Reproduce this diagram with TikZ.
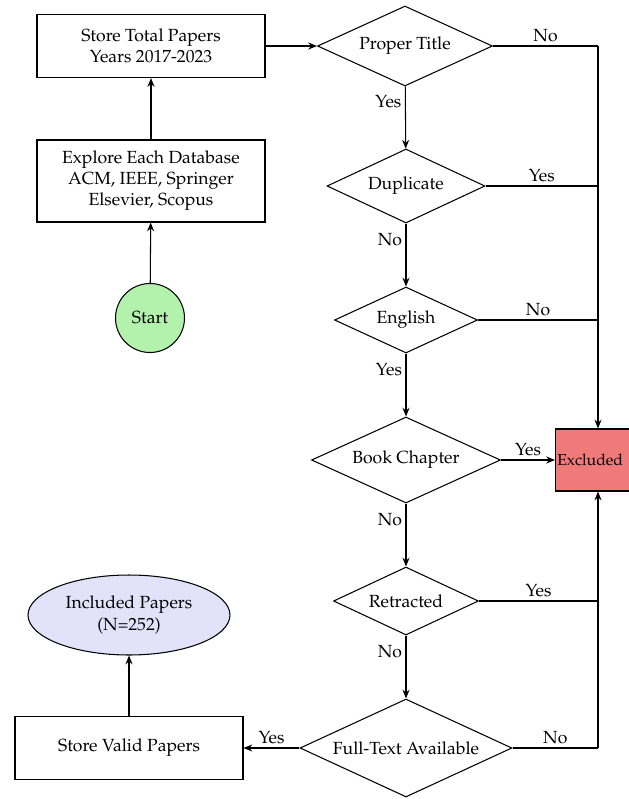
\documentclass[tikz,border=0pt]{standalone}
\usepackage[T1]{fontenc}
\usepackage{mathpazo}
\usepackage{xcolor}
\definecolor{startgreen}{RGB}{178,242,172}
\definecolor{exclred}{RGB}{240,122,122}
\definecolor{inclblue}{RGB}{226,226,250}
\usepackage{tikz}
\usetikzlibrary{shapes.geometric}
\usetikzlibrary{arrows.meta}

\tikzset{
  stepbox/.style={draw, rectangle, align=center, minimum width=4.56cm},
  decision/.style={draw, diamond, aspect=2.2, inner sep=0pt, align=center},
  flow/.style={-{Stealth[length=5pt,width=4pt]}},
  lbl/.style={inner sep=2pt}
}

\begin{document}
\begin{tikzpicture}[x=0.02cm, y=-0.02cm, semithick]
    \useasboundingbox (0,0) rectangle (629,799);

    \node [stepbox, minimum height=1.26cm] (store) at (151,46) {Store Total Papers\\Years 2017-2023};
    \node [stepbox, minimum height=1.64cm] (explore) at (151,181) {Explore Each Database\\ACM, IEEE, Springer\\Elsevier, Scopus};
    \node [draw, circle, fill=startgreen, minimum size=1.38cm, inner sep=0pt] (start) at (150,318) {Start};

    \node [decision, minimum width=3.5cm, minimum height=1.6cm] (title) at (405,46) {Proper Title};
    \node [decision, minimum width=3.16cm, minimum height=1.48cm] (dup) at (406,186) {Duplicate};
    \node [decision, minimum width=2.86cm, minimum height=1.32cm] (eng) at (406,320) {English};
    \node [decision, minimum width=3.78cm, minimum height=1.72cm] (book) at (406,460) {Book Chapter};
    \node [decision, minimum width=2.9cm, minimum height=1.36cm] (retr) at (406,601) {Retracted};
    \node [decision, minimum width=4.24cm, minimum height=1.96cm] (full) at (406,748) {Full-Text Available};

    \node [draw, rectangle, fill=exclred, anchor=west, font=\small, inner xsep=1pt, text width=1.7cm, minimum height=1.24cm] (excl) at (555,460) {Excluded};
    \node [stepbox, minimum height=1.26cm] (valid) at (129,748) {Store Valid Papers};
    \node [draw, ellipse, fill=inclblue, minimum width=4.04cm, minimum height=1.6cm, align=center, inner sep=0pt] (incl) at (129,615) {Included Papers\\(N=252)};

    \coordinate (c1) at (598,46);
    \coordinate (c2) at (598,186);
    \coordinate (c3) at (598,320);
    \coordinate (c4) at (598,601);
    \coordinate (c5) at (598,748);

    % left column
    \draw [flow] (start) -- (explore);
    \draw [flow] (explore) -- (store);
    \draw [flow] (store) -- (title);

    % decisions down the middle
    \draw [flow] (title) -- node [lbl, pos=0.25, left] {Yes} (dup);
    \draw [flow] (dup) -- node [lbl, pos=0.25, left] {No} (eng);
    \draw [flow] (eng) -- node [lbl, pos=0.25, left] {Yes} (book);
    \draw [flow] (book) -- node [lbl, pos=0.25, left] {No} (retr);
    \draw [flow] (retr) -- node [lbl, pos=0.25, left] {No} (full);

    % to excluded
    \draw (title.east) -- node [lbl, above] {No} (c1);
    \draw [flow] (c1) -- (c1 |- excl.north);
    \draw (dup.east) -- node [lbl, above] {Yes} (c2);
    \draw (eng.east) -- node [lbl, above] {No} (c3);
    \draw [flow] (book.east) -- node [lbl, above] {Yes} (excl.west);
    \draw (retr.east) -- node [lbl, above] {Yes} (c4);
    \draw (full.east) -- node [lbl, above] {No} (c5);
    \draw [flow] (c5) -- (c5 |- excl.south);

    % included
    \draw [flow] (full.west) -- node [lbl, above] {Yes} (valid.east);
    \draw [flow] (valid) -- (incl);
  \end{tikzpicture}
\end{document}
